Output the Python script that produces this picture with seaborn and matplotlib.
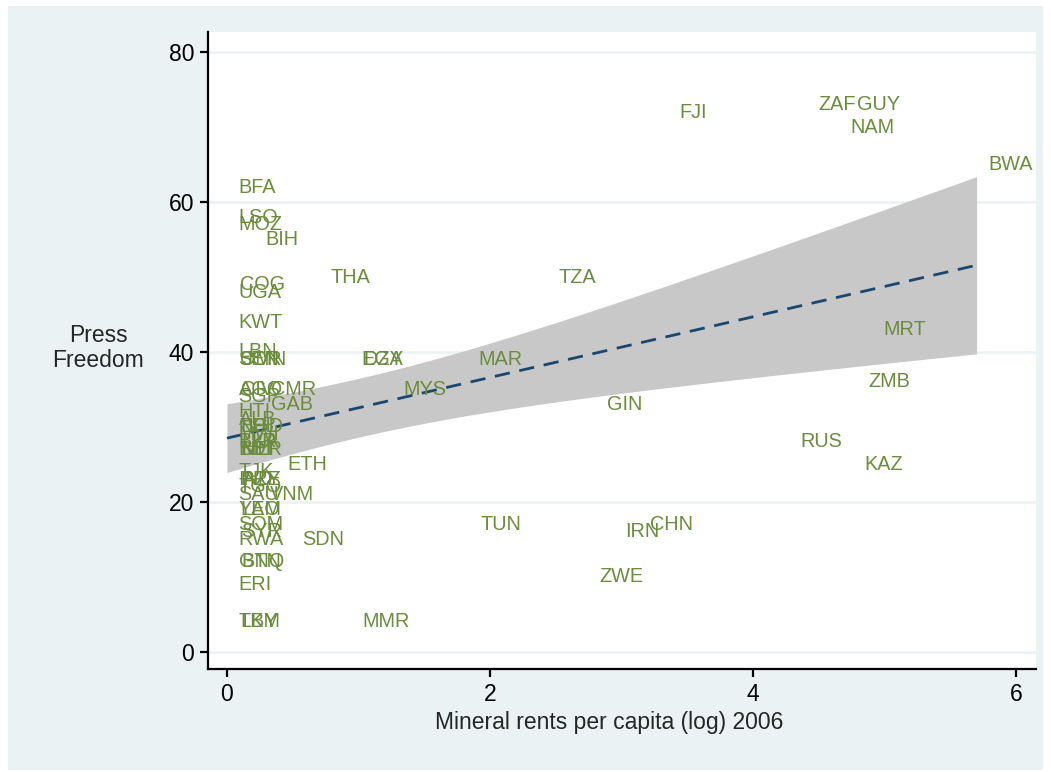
import numpy as np
import pandas as pd
import matplotlib
matplotlib.use("Agg")
import matplotlib.pyplot as plt
from matplotlib.patches import Rectangle
import seaborn as sns

# Country codes, mineral rents per capita (log, 2006) and press freedom score
codes = ["FJI", "ZAF", "GUY", "NAM", "BWA", "MRT", "ZMB", "RUS", "KAZ", "CHN",
         "IRN", "ZWE", "GIN", "TUN", "MAR", "MYS", "TZA", "THA", "EGY", "DZA",
         "SDN", "MMR", "ETH", "VNM", "CMR", "GAB", "BIH",
         "BFA", "LSO", "MOZ", "COG", "UGA", "KWT", "LBN", "SEN", "OMN", "JOR",
         "AGO", "CIV", "SGP", "HTI", "ALB", "BGD", "NPL", "MWI", "BLR", "LKA",
         "BDI", "NER", "MLI", "TJK", "IND", "AZE", "PRY", "TGO", "SAU", "YEM",
         "LAO", "SOM", "SYR", "RWA", "GNQ", "BTN", "ERI", "TKM", "LBY"]
mineral_rents = [3.35, 4.41, 4.70, 4.65, 5.70, 4.90, 4.79, 4.27, 4.76, 3.13,
                 2.94, 2.74, 2.80, 1.84, 1.82, 1.25, 2.43, 0.70, 0.93, 0.95,
                 0.48, 0.94, 0.37, 0.24, 0.25, 0.25, 0.20,
                 0.00, 0.00, 0.00, 0.01, 0.00, 0.00, 0.00, 0.00, 0.01, 0.03,
                 0.00, 0.02, 0.00, 0.00, 0.00, 0.01, 0.00, 0.00, 0.00, 0.02,
                 0.00, 0.01, 0.02, 0.00, 0.00, 0.03, 0.01, 0.00, 0.00, 0.00,
                 0.01, 0.00, 0.02, 0.00, 0.00, 0.02, 0.00, 0.00, 0.01]
press_freedom = [72, 73, 73, 70, 65, 43, 36, 28, 25, 17,
                 16, 10, 33, 17, 39, 35, 50, 50, 39, 39,
                 15, 4, 25, 21, 35, 33, 55,
                 62, 58, 57, 49, 48, 44, 40, 39, 39, 39,
                 35, 35, 34, 32, 31, 30, 30, 29, 28, 28,
                 27, 27, 27, 24, 23, 23, 23, 22, 21, 19,
                 19, 17, 16, 15, 12, 12, 9, 4, 4]

x_ticks = [0, 2, 4, 6]
y_ticks = [0, 20, 40, 60, 80]

df = pd.DataFrame({"code": codes, "rents": mineral_rents, "press": press_freedom})

BG = "#EAF2F3"
LABEL = "#6B8C3C"
FIT = "#1A476F"
BAND = "#C8C8C8"

sns.set_style("white")
plt.rcParams["font.family"] = ["Liberation Sans", "DejaVu Sans"]

fig = plt.figure(figsize=(10.51, 7.72), dpi=100)
W, H = 1051, 772
fig.patches.append(Rectangle((8 / W, (H - 770) / H), (1043 - 8) / W, (770 - 6) / H,
                             transform=fig.transFigure, facecolor=BG,
                             edgecolor="none", zorder=-10))

ax = fig.add_axes([208 / W, (H - 669) / H, (1036 - 208) / W, (669 - 32) / H])
ax.set_zorder(1)
ax.set_facecolor("white")

# Linear fit with 95% confidence band for the mean
x = df["rents"].to_numpy(float)
y = df["press"].to_numpy(float)
n = len(x)
b1, b0 = np.polyfit(x, y, 1)
resid = y - (b0 + b1 * x)
s = np.sqrt(np.sum(resid ** 2) / (n - 2))
xg = np.linspace(x.min(), x.max(), 100)
yg = b0 + b1 * xg
se = s * np.sqrt(1 / n + (xg - x.mean()) ** 2 / np.sum((x - x.mean()) ** 2))
tcrit = 1.9966
fit = pd.DataFrame({"rents": xg, "press": yg})

ax.fill_between(xg, yg - tcrit * se, yg + tcrit * se, color=BAND, lw=0, zorder=1)
sns.lineplot(data=fit, x="rents", y="press", ax=ax, color=FIT, lw=2.0,
             linestyle=(0, (5.5, 3.5)), zorder=3)

for _, r in df.iterrows():
    ax.annotate(r["code"], (r["rents"], r["press"]), xytext=(8.4, 0),
                textcoords="offset points", ha="left", va="center",
                fontsize=14.3, color=LABEL, zorder=4)

ax.set_xlim(-0.144, 6.152)
ax.set_ylim(-2.27, 82.67)
ax.set_xticks(x_ticks)
ax.set_yticks(y_ticks)
ax.set_xticklabels([str(t) for t in x_ticks])
ax.set_yticklabels([str(t) for t in y_ticks])
for t in y_ticks:
    ax.axhline(t, color=BG, lw=1.8, zorder=0.5)

for side in ["top", "right"]:
    ax.spines[side].set_visible(False)
for side in ["left", "bottom"]:
    ax.spines[side].set_color("black")
    ax.spines[side].set_linewidth(1.6)
ax.tick_params(axis="both", which="major", length=6, width=1.6, color="black",
               labelsize=16.5, labelcolor="black", direction="out")
ax.tick_params(axis="y", pad=4, left=True)
ax.tick_params(axis="x", pad=4, bottom=True)

ax.set_xlabel("Mineral rents per capita (log) 2006", fontsize=16.5, va="center")
ax.xaxis.set_label_coords((609 - 208) / 828, (669 - 722) / 637)
ax.set_ylabel("Press\nFreedom", rotation=0, fontsize=16.5, ha="center",
              va="center", linespacing=1.15)
ax.yaxis.set_label_coords((98 - 208) / 828, (669 - 348) / 637)

fig.savefig("out.png", dpi=100, facecolor="white")
